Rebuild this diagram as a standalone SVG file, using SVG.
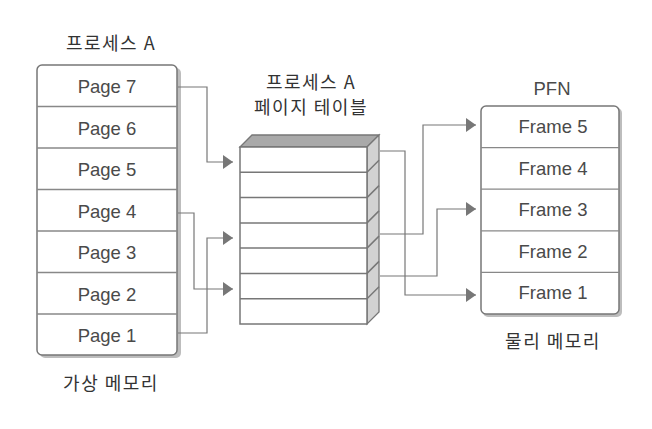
<svg xmlns="http://www.w3.org/2000/svg" width="652" height="429" viewBox="0 0 652 429">
<defs>
<style>
.t{font-family:"Noto Sans CJK KR","Liberation Sans",sans-serif;font-size:18px;letter-spacing:1.5px;fill:#333;text-anchor:middle}
.c{font-family:"Liberation Sans","Noto Sans",sans-serif;font-size:18.5px;fill:#4a4a4a;text-anchor:middle}
.box{fill:#fff;stroke:#777;stroke-width:1.5}
.shadow{fill:#bdbdbd}
.div{stroke:#888;stroke-width:1.3}
.row{stroke:#777;stroke-width:1.5}
.ln{fill:none;stroke:#777;stroke-width:1.2}
</style>
<marker id="ah" markerWidth="10" markerHeight="14" refX="10" refY="7" orient="auto" markerUnits="userSpaceOnUse">
<path d="M0,0 L10,7 L0,14 Z" fill="#777"/>
</marker>
</defs>
<rect width="652" height="429" fill="#fff"/>

<g id="virtual-memory">
<text class="t" x="111" y="50">프로세스 A</text>
<rect class="shadow" x="40" y="68" width="141" height="290" rx="5"/>
<rect class="box" x="37" y="65" width="140" height="290" rx="5"/>
<line class="div" x1="37" y1="106.5" x2="177" y2="106.5"/>
<line class="div" x1="37" y1="148" x2="177" y2="148"/>
<line class="div" x1="37" y1="189.5" x2="177" y2="189.5"/>
<line class="div" x1="37" y1="231" x2="177" y2="231"/>
<line class="div" x1="37" y1="272.5" x2="177" y2="272.5"/>
<line class="div" x1="37" y1="314" x2="177" y2="314"/>
<text class="c" x="107" y="93">Page 7</text>
<text class="c" x="107" y="134.5">Page 6</text>
<text class="c" x="107" y="176">Page 5</text>
<text class="c" x="107" y="217.5">Page 4</text>
<text class="c" x="107" y="259">Page 3</text>
<text class="c" x="107" y="300.5">Page 2</text>
<text class="c" x="107" y="342">Page 1</text>
<text class="t" x="111" y="390">가상 메모리</text>
</g>

<g id="page-table">
<text class="t" x="311" y="89">프로세스 A</text>
<text class="t" x="311" y="114">페이지 테이블</text>
<polygon points="240,147 252,135 379,135 367,147" fill="#a9a9a9" stroke="#777" stroke-width="1.3"/>
<polygon points="367,147 379,135 379,312 367,324" fill="#d2d2d2" stroke="#777" stroke-width="1.3"/>
<rect x="240" y="147" width="127" height="177" fill="#fff" stroke="#777" stroke-width="1.5"/>
<g class="row">
<line x1="240" y1="172.3" x2="367" y2="172.3"/><line x1="367" y1="172.3" x2="379" y2="160.3"/>
<line x1="240" y1="197.6" x2="367" y2="197.6"/><line x1="367" y1="197.6" x2="379" y2="185.6"/>
<line x1="240" y1="222.9" x2="367" y2="222.9"/><line x1="367" y1="222.9" x2="379" y2="210.9"/>
<line x1="240" y1="248.1" x2="367" y2="248.1"/><line x1="367" y1="248.1" x2="379" y2="236.1"/>
<line x1="240" y1="273.4" x2="367" y2="273.4"/><line x1="367" y1="273.4" x2="379" y2="261.4"/>
<line x1="240" y1="298.7" x2="367" y2="298.7"/><line x1="367" y1="298.7" x2="379" y2="286.7"/>
</g>
</g>

<g id="physical-memory">
<text class="c" x="552" y="95">PFN</text>
<rect class="shadow" x="483" y="108" width="139" height="209" rx="5" fill="#d0d0d0"/>
<rect class="box" x="481" y="106" width="138" height="208" rx="5"/>
<line class="div" x1="481" y1="147.6" x2="619" y2="147.6"/>
<line class="div" x1="481" y1="189.2" x2="619" y2="189.2"/>
<line class="div" x1="481" y1="230.8" x2="619" y2="230.8"/>
<line class="div" x1="481" y1="272.4" x2="619" y2="272.4"/>
<text class="c" x="553" y="133">Frame 5</text>
<text class="c" x="553" y="174.5">Frame 4</text>
<text class="c" x="553" y="216">Frame 3</text>
<text class="c" x="553" y="257.5">Frame 2</text>
<text class="c" x="553" y="299">Frame 1</text>
<text class="t" x="553" y="348">물리 메모리</text>
</g>

<g id="connectors">
<polyline class="ln" points="178,87 207,87 207,162 233,162" marker-end="url(#ah)"/>
<polyline class="ln" points="178,213 194,213 194,289 233,289" marker-end="url(#ah)"/>
<polyline class="ln" points="178,333 207,333 207,238 233,238" marker-end="url(#ah)"/>
<polyline class="ln" points="380,151 405,151 405,295 476,295" marker-end="url(#ah)"/>
<polyline class="ln" points="380,234 423,234 423,125 476,125" marker-end="url(#ah)"/>
<polyline class="ln" points="380,276 437,276 437,209 476,209" marker-end="url(#ah)"/>
</g>
</svg>
